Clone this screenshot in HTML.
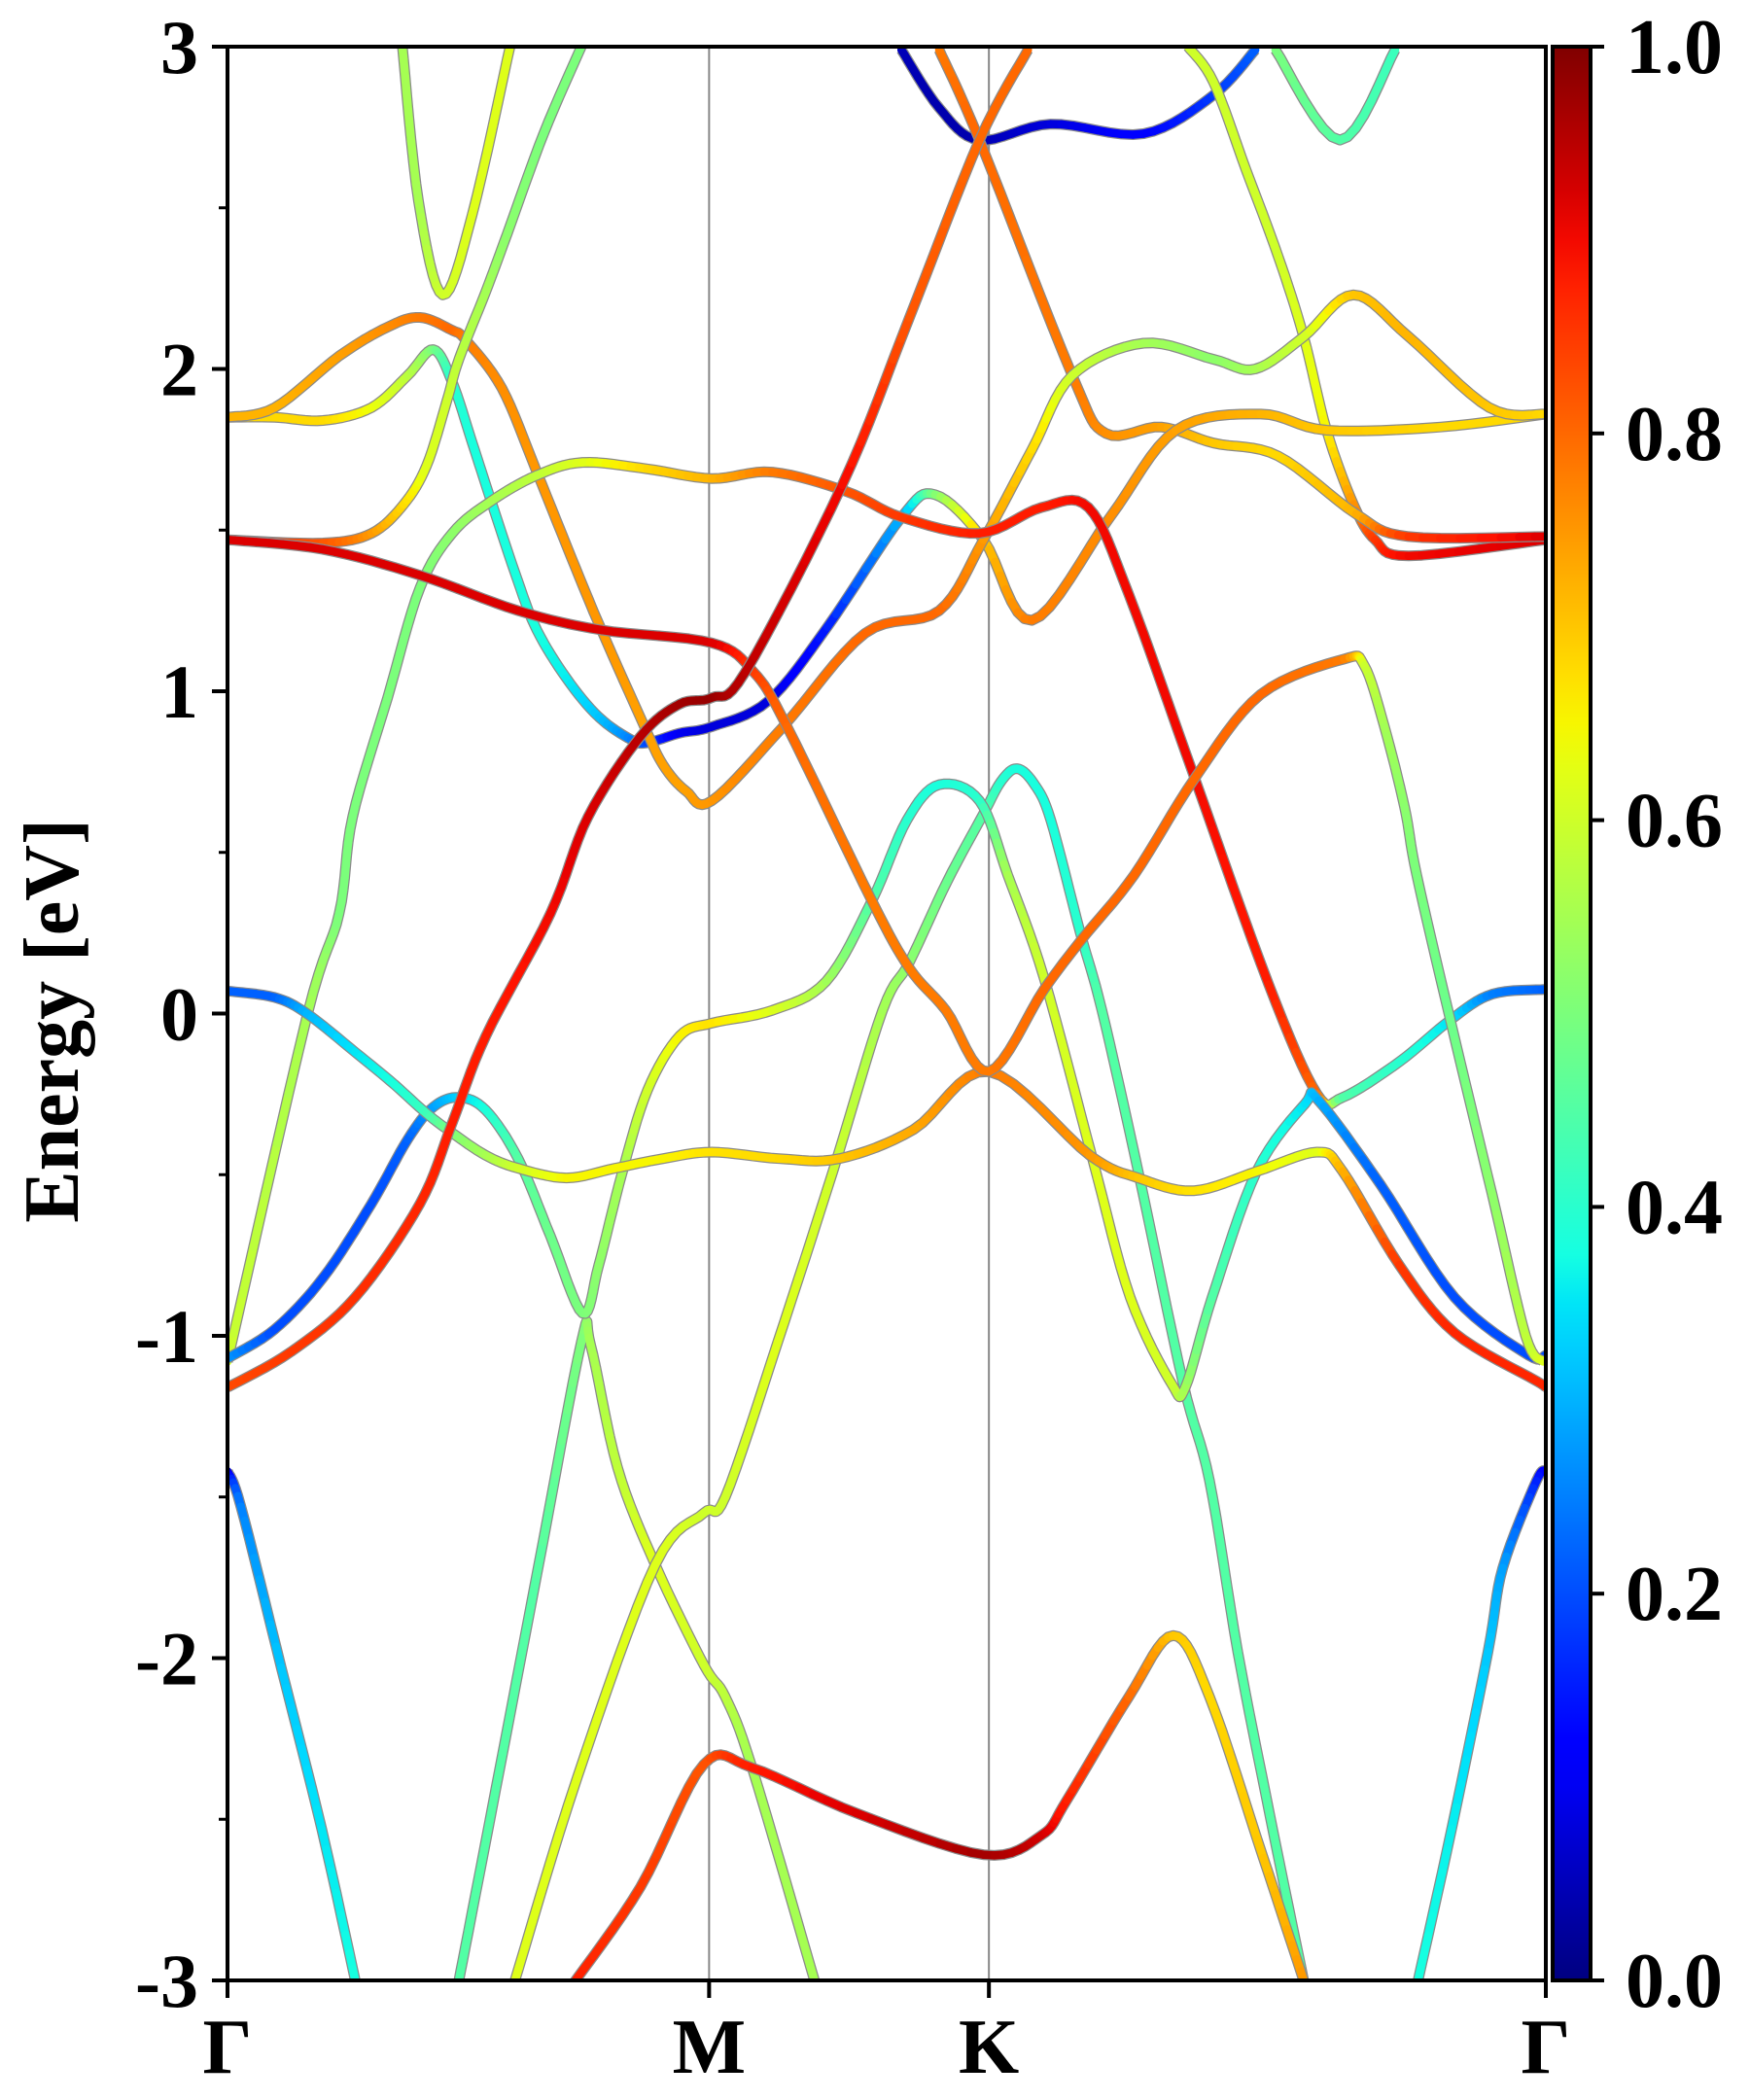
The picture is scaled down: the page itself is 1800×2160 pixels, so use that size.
<!DOCTYPE html>
<html><head><meta charset="utf-8">
<style>
html,body{margin:0;padding:0;background:#fff;}
svg{display:block;}
text{font-family:"Liberation Serif",serif;font-weight:bold;fill:#000;}
</style></head>
<body>
<svg id="chart" width="1800" height="2160" viewBox="0 0 1800 2160" xmlns="http://www.w3.org/2000/svg">
  <defs>
    <clipPath id="plotclip"><rect x="234" y="48" width="1356" height="1989"/></clipPath>
    <linearGradient id="jetgrad" x1="0" y1="1" x2="0" y2="0"></linearGradient>
  </defs>
  <g id="bands" clip-path="url(#plotclip)"></g>
  <g id="axes"></g>
</svg>
<script>
// ---- data (k in path units: Γ=0, M=3.58, K=5.66, Γ=9.80; E in eV; w = projected weight) ----
const kPoints = [0, 3.58, 5.66, 9.80];
const kLabels = ["Γ", "M", "K", "Γ"];
const yTicks = [-3, -2, -1, 0, 1, 2, 3];
const yTickLabels = ["-3", "-2", "-1", "0", "1", "2", "3"];
const cbTicks = [0, 0.2, 0.4, 0.6, 0.8, 1.0];
const cbTickLabels = ["0.0", "0.2", "0.4", "0.6", "0.8", "1.0"];

const bandS1 = [[0,-1.42,.05],[0.10,-1.53,.25],[0.40,-2.03,.32],[0.70,-2.53,.35],[0.95,-3.0,.38]];
const bandS1r = [[9.80,-1.42,.05],[9.73,-1.45,.15],[9.48,-1.72,.28],[9.37,-1.98,.32],[9.10,-2.53,.36],[8.85,-3.0,.38]];
const bandS2 = [[0,-1.16,.83],[.47,-1.05,.85],[.95,-.88,.86],[1.43,-.59,.87],[1.67,-.34,.88],[1.92,-.07,.88],[2.40,.31,.9],[2.68,.61,.92],[3.07,.86,.95],[3.36,.96,.97],[3.60,.98,.98],[3.85,1.06,.95],[4.57,1.64,.9],[5.07,2.16,.82],[5.59,2.71,.8],[5.95,2.99,.8]];
const bandS3 = [[0,.07,.22],[.35,.05,.22],[.59,0,.3],[.95,-.12,.35],[1.24,-.22,.38],[1.48,-.31,.42],[1.67,-.37,.5],[1.92,-.44,.55],[2.16,-.48,.6],[2.52,-.51,.65],[2.88,-.48,.65],[3.24,-.45,.65],[3.60,-.43,.67],[4.10,-.45,.68],[4.55,-.45,.7],[5.10,-.36,.73],[5.66,-.18,.78],[6.41,-.44,.75],[6.77,-.51,.7],[7.18,-.55,.67],[7.65,-.49,.65],[8.10,-.43,.62],[8.29,-.49,.72],[8.71,-.78,.85],[9.12,-.99,.87],[9.73,-1.14,.87],[9.80,-1.16,.87]];
const bandS4 = [[0,-1.07,.28],[.35,-.98,.2],[.71,-.82,.2],[1.07,-.59,.2],[1.34,-.39,.22],[1.53,-.29,.28],[1.72,-.26,.33],[1.92,-.30,.38],[2.16,-.45,.45],[2.40,-.69,.48],[2.64,-.93,.5],[2.76,-.78,.52],[2.93,-.50,.55],[3.12,-.24,.6],[3.36,-.07,.65],[3.60,-.03,.67],[4.05,.01,.62],[4.45,.10,.55],[4.79,.35,.45],[5.05,.60,.4],[5.29,.71,.38],[5.59,.66,.4],[5.80,.43,.55],[6.07,.11,.6],[6.43,-.45,.62],[6.71,-.88,.62],[7.02,-1.15,.6],[7.12,-1.16,.55],[7.32,-.88,.45],[7.65,-.49,.4],[8.01,-.28,.35],[8.11,-.27,.3],[8.57,-.53,.22],[9.12,-.88,.2],[9.67,-1.06,.2],[9.80,-1.06,.2]];
const bandG1 = [[0,-1.08,.6],[.59,-.01,.55],[.83,.31,.5],[.93,.61,.5],[1.19,.98,.5],[1.43,1.32,.5],[1.67,1.49,.52],[1.96,1.59,.55],[2.30,1.67,.58],[2.64,1.71,.62],[3.12,1.69,.68],[3.60,1.66,.72],[4.05,1.68,.78],[4.60,1.62,.82],[5.01,1.54,.85],[5.59,1.49,.88],[6.05,1.57,.88],[6.40,1.57,.9],[6.70,1.30,.9],[7.19,.73,.9],[7.74,.09,.88],[8.10,-.25,.8],[8.29,-.26,.45],[8.71,-.15,.4],[9.09,-.02,.35],[9.40,.06,.25],[9.80,.075,.22]];
const bandSa = [[0,1.47,.88],[.71,1.46,.82],[1.07,1.49,.75],[1.31,1.58,.68],[1.48,1.70,.62],[1.63,1.90,.6],[1.72,2.03,.58],[1.92,2.24,.55],[2.08,2.42,.52],[2.35,2.73,.5],[2.63,3.0,.5]];
const bandC = [[0,1.47,.92],[.71,1.44,.92],[1.43,1.36,.92],[2.16,1.25,.92],[2.78,1.19,.92],[3.60,1.15,.92],[3.91,1.06,.85],[4.16,.89,.8],[4.79,.35,.78],[5.07,.14,.78],[5.34,.01,.78],[5.66,-.18,.78],[6.07,.075,.8],[6.35,.23,.8],[6.74,.43,.8],[7.19,.73,.8],[7.68,.99,.8],[8.30,1.10,.78],[8.45,1.08,.6],[8.60,.89,.55],[8.75,.64,.52],[8.84,.43,.5],[9.09,-.02,.48],[9.40,-.56,.52],[9.65,-1.0,.58],[9.78,-1.08,.62]];
const bandOH = [[0,1.85,.72],[.35,1.88,.72],[.83,2.04,.74],[1.19,2.13,.76],[1.43,2.16,.78],[1.67,2.12,.8],[1.77,2.09,.78],[2.04,1.94,.76],[2.30,1.68,.75],[2.59,1.38,.75],[2.78,1.19,.75],[3.10,.89,.74],[3.24,.77,.74],[3.41,.69,.74],[3.60,.66,.75],[4.13,.89,.78],[4.74,1.18,.8],[5.29,1.25,.8],[5.62,1.47,.75],[5.98,1.75,.68],[6.28,1.98,.6],[6.81,2.08,.55],[7.33,2.03,.52],[7.64,2.0,.55],[8.0,2.10,.6],[8.37,2.23,.7],[8.78,2.10,.72],[9.38,1.88,.7],[9.80,1.86,.68]];
const bandYC = [[0,1.85,.68],[.35,1.85,.68],[.71,1.84,.68],[1.07,1.88,.64],[1.34,1.98,.58],[1.53,2.06,.5],[1.67,1.96,.4],[1.82,1.77,.38],[1.96,1.59,.38],[2.16,1.34,.38],[2.30,1.19,.38],[2.52,1.04,.36],[2.76,.92,.32],[3.0,.85,.25],[3.12,.84,.2],[3.36,.87,.1],[3.60,.89,.08],[4.02,.97,.08],[4.46,1.20,.15],[5.01,1.54,.3],[5.26,1.61,.5],[5.62,1.47,.7],[5.98,1.22,.78],[6.56,1.54,.76],[7.05,1.81,.74],[7.68,1.86,.72],[8.17,1.81,.7],[9.02,1.82,.68],[9.80,1.86,.68]];
const bandB = [[5.29,2.99,.78],[5.59,2.71,.8],[6.28,1.98,.78],[6.53,1.80,.76],[6.94,1.82,.74],[7.33,1.77,.7],[7.81,1.73,.68],[8.39,1.55,.72],[8.78,1.48,.85],[9.80,1.48,.92]];
const bandYT = [[7.14,3.0,.6],[7.33,2.89,.6],[7.57,2.62,.6],[7.81,2.35,.6],[8.0,2.10,.62],[8.17,1.81,.65],[8.37,1.58,.75],[8.53,1.47,.85],[8.78,1.42,.9],[9.80,1.47,.92]];
const bandDB = [[5.01,2.99,.05],[5.29,2.81,.04],[5.59,2.71,.04],[6.12,2.76,.08],[6.81,2.73,.12],[7.33,2.85,.18],[7.64,2.99,.22]];
const bandTV = [[1.30,3.0,.55],[1.42,2.52,.55],[1.60,2.23,.6],[1.82,2.48,.62],[2.10,3.0,.62]];
const bandTU = [[7.79,2.99,.5],[8.27,2.71,.45],[8.68,2.99,.42]];
const bandRL = [[2.57,-3.01,.88],[3.07,-2.71,.85],[3.54,-2.33,.82],[3.90,-2.34,.88],[4.67,-2.48,.92],[5.62,-2.61,.97],[6.05,-2.55,.93],[6.24,-2.44,.88],[6.70,-2.12,.8],[7.03,-1.93,.7],[7.30,-2.12,.68],[7.70,-2.62,.7],[8.0,-3.0,.75]];
const bandY1 = [[2.13,-3.01,.62],[2.60,-2.37,.62],[3.18,-1.71,.62],[3.54,-1.55,.6],[3.70,-1.50,.6],[4.09,-1.02,.62],[4.50,-.49,.6],[4.87,.01,.55],[5.07,.16,.52],[5.35,.41,.48],[5.62,.62,.45],[5.75,.72,.4],[5.87,.76,.38],[6.0,.71,.38],[6.12,.60,.38],[6.34,.25,.4],[6.50,.01,.45],[6.77,-.49,.45],[7.10,-1.14,.45],[7.30,-1.45,.45],[7.51,-1.98,.45],[7.75,-2.49,.45],[8.0,-3.0,.45]];
const bandVL = [[1.72,-3.0,.45],[1.91,-2.59,.45],[2.30,-1.74,.45],[2.63,-1.02,.5],[2.70,-1.03,.55],[2.90,-1.41,.58],[3.18,-1.71,.62],[3.54,-2.02,.6],[3.70,-2.12,.58],[3.90,-2.34,.55],[4.37,-3.01,.55]];

const allBands = [
  ["band-s1",bandS1],["band-s1r",bandS1r],["band-vl",bandVL],["band-y1",bandY1],["band-rl",bandRL],
  ["band-tv",bandTV],["band-tu",bandTU],["band-db",bandDB],["band-yt",bandYT],["band-b",bandB],
  ["band-yc",bandYC],["band-oh",bandOH],["band-sa",bandSa],["band-g1",bandG1],["band-s4",bandS4],
  ["band-s3",bandS3],["band-c",bandC],["band-s2",bandS2]
];

// ---- geometry ----
const PL = 234, PR = 1590, PT = 48, PB = 2037;
const KMAX = 9.80, EMIN = -3, EMAX = 3;
function xs(k){ return PL + k / KMAX * (PR - PL); }
function ys(e){ return PT + (EMAX - e) / (EMAX - EMIN) * (PB - PT); }
function seg(v, pts){
  for (let i = 0; i < pts.length - 1; i++){
    const a = pts[i], b = pts[i+1];
    if (v >= a[0] && v <= b[0]) return a[1] + (b[1]-a[1]) * (v - a[0]) / (b[0] - a[0]);
  }
  return pts[pts.length-1][1];
}
function jet(v){
  v = Math.max(0, Math.min(1, v));
  const r = seg(v, [[0,0],[0.35,0],[0.66,1],[0.89,1],[1,0.5]]);
  const g = seg(v, [[0,0],[0.125,0],[0.375,1],[0.64,1],[0.91,0],[1,0]]);
  const b = seg(v, [[0,0.5],[0.11,1],[0.34,1],[0.65,0],[1,0]]);
  return "rgb(" + Math.round(r*255) + "," + Math.round(g*255) + "," + Math.round(b*255) + ")";
}
const NS = "http://www.w3.org/2000/svg";
function mk(tag, attrs, parent){
  const el = document.createElementNS(NS, tag);
  for (const a in attrs) el.setAttribute(a, attrs[a]);
  parent.appendChild(el);
  return el;
}
function smooth(pts){
  const P = pts.map(p => [xs(p[0]), ys(p[1]), p[2]]);
  const out = [];
  for (let i = 0; i < P.length - 1; i++){
    const p0 = P[Math.max(0,i-1)], p1 = P[i], p2 = P[i+1], p3 = P[Math.min(P.length-1,i+2)];
    const n = 8;
    for (let j = 0; j < n; j++){
      const t = j / n, t2 = t*t, t3 = t2*t;
      const x = 0.5*((2*p1[0]) + (-p0[0]+p2[0])*t + (2*p0[0]-5*p1[0]+4*p2[0]-p3[0])*t2 + (-p0[0]+3*p1[0]-3*p2[0]+p3[0])*t3);
      const y = 0.5*((2*p1[1]) + (-p0[1]+p2[1])*t + (2*p0[1]-5*p1[1]+4*p2[1]-p3[1])*t2 + (-p0[1]+3*p1[1]-3*p2[1]+p3[1])*t3);
      out.push([x, y, p1[2] + (p2[2]-p1[2])*t]);
    }
  }
  const l = P[P.length-1];
  out.push([l[0], l[1], l[2]]);
  return out;
}

const bandsG = document.getElementById('bands');
const axesG = document.getElementById('axes');

[kPoints[1], kPoints[2]].forEach((k) => {
  const ln = mk('line', {x1: xs(k), x2: xs(k), y1: PT, y2: PB, stroke: '#888', 'stroke-width': 2}, bandsG);
  
  
});

allBands.forEach(([name, pts]) => {
  const g = mk('g', {}, bandsG);
  
  
  const s = smooth(pts);
  const d = s.map((p, i) => (i ? 'L' : 'M') + p[0].toFixed(1) + ' ' + p[1].toFixed(1)).join(' ');
  mk('path', {d: d, fill: 'none', stroke: '#8a8a8a', 'stroke-width': 11, 'stroke-linecap': 'butt', 'stroke-linejoin': 'round'}, g);
  for (let i = 0; i < s.length - 1; i++){
    const a = s[i], b = s[i+1];
    mk('line', {x1: a[0].toFixed(1), y1: a[1].toFixed(1), x2: b[0].toFixed(1), y2: b[1].toFixed(1),
      stroke: jet((a[2]+b[2])/2), 'stroke-width': 8.5, 'stroke-linecap': 'round'}, g);
  }
});

const frame = mk('rect', {x: PL, y: PT, width: PR-PL, height: PB-PT, fill: 'none', stroke: '#000', 'stroke-width': 4}, axesG);



yTicks.forEach((e, i) => {
  mk('line', {x1: PL-16, x2: PL, y1: ys(e), y2: ys(e), stroke: '#000', 'stroke-width': 4}, axesG);
  const t = mk('text', {x: PL-30, y: ys(e)+27, 'text-anchor': 'end', 'font-size': 78}, axesG);
  t.textContent = yTickLabels[i];
  
  
});
for (let e = -2.5; e < 3; e += 1){
  mk('line', {x1: PL-9, x2: PL, y1: ys(e), y2: ys(e), stroke: '#000', 'stroke-width': 3}, axesG);
}
kPoints.forEach((k, i) => {
  mk('line', {x1: xs(k), x2: xs(k), y1: PB, y2: PB+18, stroke: '#000', 'stroke-width': 4}, axesG);
  const t = mk('text', {x: xs(k), y: 2132, 'text-anchor': 'middle', 'font-size': 80}, axesG);
  t.textContent = kLabels[i];
  
  
});
const yt = mk('text', {x: 0, y: 0, 'text-anchor': 'middle', 'font-size': 80, transform: 'translate(80,1050) rotate(-90)'}, axesG);
yt.textContent = 'Energy [eV]';



const grad = document.getElementById('jetgrad');
for (let i = 0; i <= 40; i++){
  mk('stop', {offset: (i/40).toFixed(3), 'stop-color': jet(i/40)}, grad);
}
const CBL = 1597, CBR = 1636;
const cb = mk('rect', {x: CBL, y: PT, width: CBR-CBL, height: PB-PT, fill: 'url(#jetgrad)', stroke: '#000', 'stroke-width': 4}, axesG);


cbTicks.forEach((v, i) => {
  const y = PB - v * (PB - PT);
  mk('line', {x1: CBR, x2: CBR+14, y1: y, y2: y, stroke: '#000', 'stroke-width': 4}, axesG);
  const t = mk('text', {x: 1672, y: y+27, 'text-anchor': 'start', 'font-size': 80}, axesG);
  t.textContent = cbTickLabels[i];
  
  
});
</script>
</body></html>
